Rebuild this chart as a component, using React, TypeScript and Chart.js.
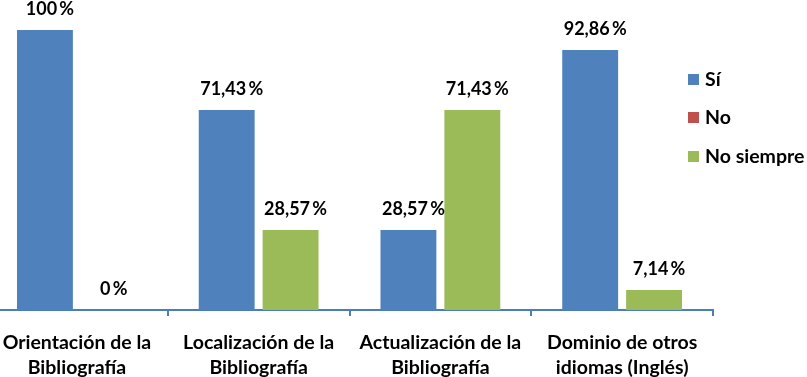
import React, { useEffect, useRef } from 'react';
import { Chart, registerables } from 'chart.js';

Chart.register(...registerables);

const categories = [
  ['Orientación de la', 'Bibliografía'],
  ['Localización de la', 'Bibliografía'],
  ['Actualización de la', 'Bibliografía'],
  ['Dominio de otros', 'idiomas (Inglés)'],
];
const seriesNames = ['Sí', 'No', 'No siempre'];
const siValues = [100, 71.43, 28.57, 92.86];
const noValues = [0, null, null, null];
const noSiempreValues = [null, 28.57, 71.43, 7.14];
const seriesColors = ['#4F81BD', '#C0504D', '#9BBB59'];

const FONT_FAMILY = 'Lato';
const FONT_SIZE = 19.5;
const FONT = `bold ${FONT_SIZE}px ${FONT_FAMILY}`;
const LABEL_FONT = `bold 18px ${FONT_FAMILY}`;

function fmt(v: number): string {
  const s = Number.isInteger(v) ? String(v) : v.toFixed(2).replace('.', ',');
  return s + '\u2009%';
}

const dataLabelPlugin = {
  id: 'dataLabels',
  afterDatasetsDraw(chart: any) {
    const ctx = chart.ctx;
    ctx.save();
    ctx.font = LABEL_FONT;
    ctx.fillStyle = '#000000';
    ctx.textAlign = 'center';
    ctx.textBaseline = 'middle';
    chart.data.datasets.forEach((ds: any, di: number) => {
      const meta = chart.getDatasetMeta(di);
      meta.data.forEach((el: any, i: number) => {
        const v = ds.data[i];
        if (v === null || v === undefined) return;
        ctx.fillText(fmt(v), el.x + 5, el.y - 21);
      });
    });
    ctx.restore();
  },
};

const legendPlugin = {
  id: 'customLegend',
  afterDraw(chart: any) {
    const ctx = chart.ctx;
    ctx.save();
    ctx.font = FONT;
    ctx.textAlign = 'left';
    ctx.textBaseline = 'middle';
    const x0 = 712;
    const ys = [80, 118, 157];
    chart.data.datasets.forEach((ds: any, i: number) => {
      ctx.fillStyle = ds.backgroundColor;
      ctx.fillRect(x0, ys[i] - 6, 11, 11);
      ctx.fillStyle = '#000000';
      ctx.fillText(ds.label, x0 + 17, ys[i]);
    });
    ctx.restore();
  },
};

export default function App() {
  const ref = useRef<HTMLCanvasElement | null>(null);

  useEffect(() => {
    if (!ref.current) return;
    const chart = new Chart(ref.current, {
      type: 'bar',
      data: {
        labels: categories as any,
        datasets: [
          { label: seriesNames[0], data: siValues, backgroundColor: seriesColors[0] },
          { label: seriesNames[1], data: noValues as any, backgroundColor: seriesColors[1] },
          { label: seriesNames[2], data: noSiempreValues as any, backgroundColor: seriesColors[2] },
        ],
      },
      options: {
        animation: false,
        responsive: false,
        devicePixelRatio: 1,
        layout: { padding: { left: 10, right: 94, top: 30, bottom: 0 } },
        datasets: {
          bar: {
            skipNull: true,
            categoryPercentage: 0.703,
            barPercentage: 0.875,
          },
        },
        plugins: {
          legend: { display: false },
          tooltip: { enabled: false },
        },
        scales: {
          y: {
            display: false,
            min: 0,
            max: 100,
          },
          x: {
            afterFit: (scale: any) => {
              scale.height = 67;
            },
            grid: {
              display: true,
              drawOnChartArea: false,
              drawTicks: true,
              tickLength: 6,
              offset: true,
              color: '#4A7EBB',
              lineWidth: 2,
            },
            border: { display: true, color: '#4A7EBB', width: 2 },
            ticks: {
              color: '#000000',
              padding: 14,
              font: { family: FONT_FAMILY, size: FONT_SIZE, weight: 'bold', lineHeight: '25px' },
            },
          },
        },
      },
      plugins: [dataLabelPlugin, legendPlugin],
    });
    return () => chart.destroy();
  }, []);

  return (
    <div style={{ position: 'fixed', left: 0, top: 0, width: 807, height: 377, overflow: 'hidden', background: '#ffffff' }}>
      <canvas ref={ref} width={831} height={377} style={{ position: 'absolute', left: -24, top: 0, width: 831, height: 377 }} />
    </div>
  );
}
